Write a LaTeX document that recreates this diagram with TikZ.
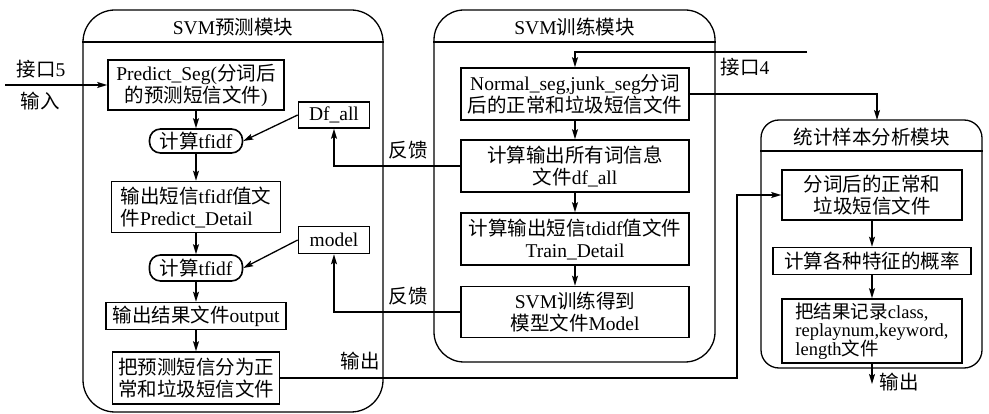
\documentclass[tikz,border=0pt]{standalone}
\usepackage{fontspec}
\setmainfont{Liberation Serif}
\newfontfamily\cjkfont{Noto Sans CJK SC}
\newcommand\zh[1]{{\cjkfont #1}}
\newcommand\tightlines{\lineskiplimit=-50pt\relax}
\newcommand\mainsize{\fontsize{19.5}{22}\selectfont\tightlines}
\newcommand\denseSize{\fontsize{18.5}{18.5}\selectfont\tightlines}
\usetikzlibrary{arrows.meta}

\tikzset{
  base/.style={font=\mainsize},
  stepbox/.style={draw, line width=1.6pt, align=center, inner sep=0pt, base},
  pill/.style={stepbox, rounded corners=11pt},
  module/.style={draw, line width=1.3pt, inner sep=0pt},
  rule/.style={line width=1.3pt},
  link/.style={line width=1.3pt},
  arr/.style={link, -{Stealth[length=10pt,width=6pt,inset=2pt]}},
  lbl/.style={base, inner sep=0pt},
}

\begin{document}
\begin{tikzpicture}[x=1pt,y=-1pt]
\useasboundingbox (0,0) rectangle (989,414);

% module frames
\node[module, minimum width=300pt, minimum height=402pt, rounded corners=32pt] (pmod) at (233,211) {};
\node[module, minimum width=281pt, minimum height=352pt, rounded corners=30pt] (tmod) at (574.5,186) {};
\node[module, minimum width=221pt, minimum height=248pt, rounded corners=18pt] (smod) at (871.5,244) {};

\draw[rule] (pmod.west |- 0,42) -- (pmod.east |- 0,42);
\draw[rule] (tmod.west |- 0,42) -- (tmod.east |- 0,42);
\draw[rule] (smod.west |- 0,151) -- (smod.east |- 0,151);

\node[lbl] (ptitle) at (233,27) {SVM\zh{预测模块}};
\node[lbl] (ttitle) at (574.5,27) {SVM\zh{训练模块}};
\node[lbl] (stitle) at (871.5,137) {\zh{统计样本分析模块}};

% prediction module
\node[stepbox, minimum width=176pt, minimum height=50pt] (p1) at (196,85) {Predict\_Seg(\zh{分词后}\\\zh{的预测短信文件})};
\node[stepbox, minimum width=71pt, minimum height=26pt] (df) at (334,115) {Df\_all};
\node[pill, minimum width=93pt, minimum height=24pt] (c1) at (196,141) {\zh{计算}tfidf};
\node[stepbox, align=left, minimum width=169pt, minimum height=51pt] (p2) at (196,207) {\zh{输出短信}tfidf\zh{值文}\\\zh{件}Predict\_Detail};
\node[stepbox, minimum width=71pt, minimum height=27pt] (model) at (334,240) {model};
\node[pill, minimum width=93pt, minimum height=26pt] (c2) at (196,268) {\zh{计算}tfidf};
\node[stepbox, minimum width=180pt, minimum height=27pt] (p3) at (196,316) {\zh{输出结果文件}output};
\node[stepbox, minimum width=167pt, minimum height=52pt] (p4) at (196,378) {\zh{把预测短信分为正}\\\zh{常和垃圾短信文件}};

% training module
\node[stepbox, minimum width=228pt, minimum height=52pt] (t1) at (575,94) {Normal\_seg,junk\_seg\zh{分词}\\\zh{后的正常和垃圾短信文件}};
\node[stepbox, minimum width=228pt, minimum height=52pt] (t2) at (575,166) {\zh{计算输出所有词信息}\\\zh{文件}df\_all};
\node[stepbox, minimum width=228pt, minimum height=52pt] (t3) at (575,239) {\zh{计算输出短信}tdidf\zh{值文件}\\Train\_Detail};
\node[stepbox, minimum width=228pt, minimum height=51pt] (t4) at (575,312) {SVM\zh{训练得到}\\\zh{模型文件}Model};

% statistics module
\node[stepbox, minimum width=180pt, minimum height=50pt] (s1) at (872,195) {\zh{分词后的正常和}\\\zh{垃圾短信文件}};
\node[stepbox, minimum width=198pt, minimum height=27pt] (s2) at (872,261) {\zh{计算各种特征的概率}};
\node[stepbox, align=left, minimum width=180pt, minimum height=64pt, font=\denseSize] (s3) at (872,331)
      {\zh{把结果记录}class,\\replaynum,keyword,\\length\zh{文件}};

% input
\coordinate (inp) at (5,85);
\draw[arr] (inp) -- (p1.west);
\node[lbl] (inlbl1) at (41,69) {\zh{接口}5};
\node[lbl] (inlbl2) at (40,101) {\zh{输入}};

% prediction flow
\draw[arr] (p1) -- (c1);
\draw[arr] (c1) -- (p2);
\draw[arr] (p2) -- (c2);
\draw[arr] (c2) -- (p3);
\draw[arr] (p3) -- (p4);
\draw[arr] (df.west) -- (c1.east);
\draw[arr] (model.west) -- (c2.east);

% training flow
\coordinate (if4) at (807,52);
\draw[arr] (if4) -- (if4 -| t1.north) -- (t1.north);
\node[lbl] (if4lbl) at (745,67) {\zh{接口}4};
\draw[arr] (t1) -- (t2);
\draw[arr] (t2) -- (t3);
\draw[arr] (t3) -- (t4);
\coordinate (stop) at (877,120);
\draw[arr] (t1.east) -| (stop);

% feedback
\draw[arr] (t2.west) -| (df.south);
\draw[arr] (t4.west) -| (model.south);
\node[lbl] (fb1) at (408,150) {\zh{反馈}};
\node[lbl] (fb2) at (408,296) {\zh{反馈}};

% prediction output to statistics
\coordinate (outx) at (737,378);
\draw[arr] (p4.east) -- (outx) -- (outx |- s1.west) -- (s1.west);
\node[lbl] (outlbl) at (360,361) {\zh{输出}};

% statistics flow
\draw[arr] (s1) -- (s2);
\draw[arr] (s2) -- (s3);
\coordinate (sout) at (872,384);
\draw[arr] (s3.south) -- (sout);
\node[lbl] (soutlbl) at (899,382) {\zh{输出}};
\end{tikzpicture}
\end{document}
